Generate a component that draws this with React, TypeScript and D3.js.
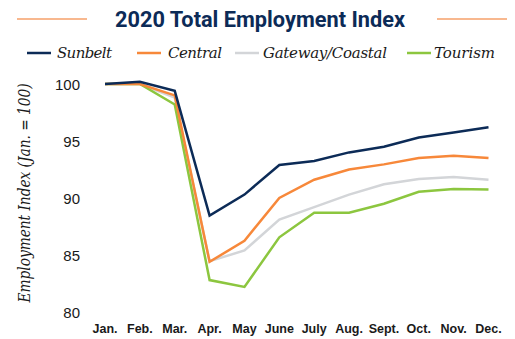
import React from "react";
import * as d3 from "d3";

const months = ["Jan.", "Feb.", "Mar.", "Apr.", "May", "June", "July", "Aug.", "Sept.", "Oct.", "Nov.", "Dec."];
const sunbelt = [100, 100.2, 99.4, 88.45, 90.3, 92.9, 93.25, 94.0, 94.5, 95.3, 95.75, 96.2];
const central = [100, 100, 99.0, 84.4, 86.25, 90.0, 91.6, 92.5, 92.95, 93.5, 93.7, 93.5];
const gateway = [100, 100, 98.8, 84.45, 85.4, 88.1, 89.2, 90.3, 91.2, 91.67, 91.84, 91.6];
const tourism = [100, 100, 98.2, 82.8, 82.2, 86.55, 88.7, 88.7, 89.5, 90.55, 90.8, 90.75];
const yTicks = [80, 85, 90, 95, 100];

const seriesNames = ["Sunbelt", "Central", "Gateway/Coastal", "Tourism"];
const seriesColors = ["#0c2b57", "#f7883a", "#d3d5d8", "#8cc63f"];
const seriesData = [sunbelt, central, gateway, tourism];
const drawOrder = [2, 3, 1, 0];

export default function App() {
  const W = 515, H = 339;
  const x = d3.scalePoint<string>().domain(months).range([105, 488.5]);
  const y = d3.scaleLinear().domain([80, 100]).range([312, 84]);
  const line = d3.line<number>().x((_, i) => x(months[i]) as number).y((v) => y(v));
  const legendX = [27, 137, 235, 407];
  const legendTextX = [57, 168, 263, 434];
  const legendLen = [55, 54, 124, 61];
  const serif = "'DejaVu Serif', 'Liberation Serif', serif";
  const sans = "Roboto, 'Liberation Sans', sans-serif";
  const sans2 = "'Liberation Sans', Arial, sans-serif";
  return (
    <svg width={W} height={H} style={{ position: "absolute", left: 0, top: 0, background: "#fff" }}>
      <line x1={17} x2={87} y1={19} y2={19} stroke="#f6a06a" strokeWidth={1.5} />
      <line x1={437} x2={507} y1={19} y2={19} stroke="#f6a06a" strokeWidth={1.5} />
      <text x={115} y={27} fontFamily={sans} fontWeight={700} fontSize={21.5} fill="#0c2b57" textLength={290} lengthAdjust="spacingAndGlyphs">
        2020 Total Employment Index
      </text>
      {seriesNames.map((n, i) => (
        <g key={n}>
          <line x1={legendX[i]} x2={legendX[i] + 24} y1={53} y2={53} stroke={seriesColors[i]} strokeWidth={2.5} />
          <text x={legendTextX[i]} y={58} fontFamily={serif} fontStyle="italic" fontSize={15} fill="#1a1a1a" textLength={legendLen[i]}>
            {n}
          </text>
        </g>
      ))}
      <text transform="translate(30,193) rotate(-90)" textAnchor="middle" fontFamily={serif} fontStyle="italic" fontSize={16} fill="#1a1a1a" textLength={219} lengthAdjust="spacingAndGlyphs">
        Employment Index (Jan. = 100)
      </text>
      {yTicks.map((t) => (
        <text key={t} x={80} y={y(t) + 6} textAnchor="end" fontFamily={sans2} fontSize={15} fill="#1a1a1a">
          {t}
        </text>
      ))}
      {months.map((m) => (
        <text key={m} x={x(m)} y={332.5} textAnchor="middle" fontFamily={sans2} fontWeight={700} fontSize={12.5} fill="#1a1a1a">
          {m}
        </text>
      ))}
      {drawOrder.map((i) => (
        <path key={i} d={line(seriesData[i]) || ""} fill="none" stroke={seriesColors[i]} strokeWidth={2.5} strokeLinejoin="miter" />
      ))}
    </svg>
  );
}
